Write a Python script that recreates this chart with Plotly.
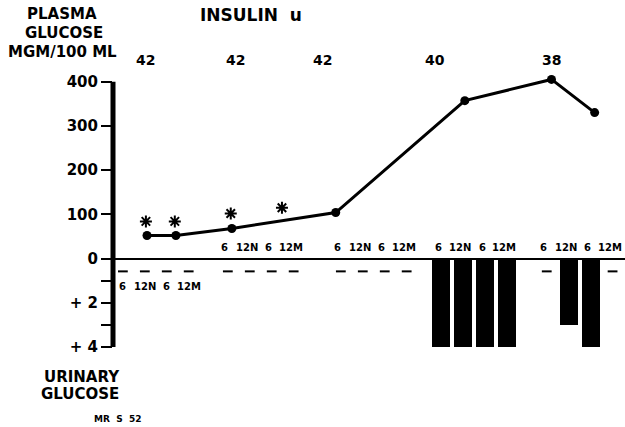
import plotly.graph_objects as go

# ---------------- data ----------------
# schematic time axis (hours-like units)
day_start = [2.7, 31.4, 62.3, 89.8, 118.6]
slot_offset = [0, 6, 12, 18]
slot_labels = ["6", "12N", "6", "12M"]

# urinary glucose (+ units) per collection slot, per day
urine_day = [
    [0, 0, 0, 0],
    [0, 0, 0, 0],
    [0, 0, 0, 0],
    [4, 4, 4, 4],
    [0, 3, 4, 0],
]

# plasma glucose (mg/100 ml)
gluc_t = [9.3, 17.2, 32.5, 60.9, 96.2, 119.9, 131.7]
gluc_v = [52, 52, 68, 104, 357, 405, 330]

# asterisk markers
star_t = [9.0, 16.9, 32.2, 46.2]
star_v = [84, 84, 102, 115]

# insulin units
ins_t = [9.0, 33.6, 57.4, 88.0, 119.8]
ins_v = [42, 42, 42, 40, 38]

y_ticks = [400, 300, 200, 100, 0, -50, -100, -150, -200]
y_ticktext = ["400", "300", "200", "100", "0", "", "+ 2", "", "+ 4"]
URINE_SCALE = 50  # one "+" unit drawn as 50 mg/100 ml below zero

# ---------------- layout constants ----------------
W, H = 625, 427
ML, MR, MT, MB = 113, 0, 75, 80
FONT = "DejaVu Sans"


def px(x):   # page pixel -> paper x
    return (x - ML) / (W - ML - MR)


def py(y):   # page pixel -> paper y
    return 1 - (y - MT) / (H - MT - MB)


fig = go.Figure()

# bars and dashes for urinary glucose
bar_x, bar_y, dash_x = [], [], []
for d, start in enumerate(day_start):
    for s, off in enumerate(slot_offset):
        t = start + off
        u = urine_day[d][s]
        if u > 0:
            bar_x.append(t)
            bar_y.append(-u * URINE_SCALE)
        else:
            dash_x.append(t)

fig.add_trace(go.Bar(x=bar_x, y=bar_y, width=4.9, marker=dict(color="black", line=dict(width=0)),
                     showlegend=False, hoverinfo="skip"))
fig.add_trace(go.Scatter(x=dash_x, y=[-29] * len(dash_x), mode="markers",
                         marker=dict(symbol="line-ew", size=7, color="black",
                                     line=dict(color="black", width=2)),
                         showlegend=False, cliponaxis=False))

# plasma glucose line
fig.add_trace(go.Scatter(x=gluc_t, y=gluc_v, mode="lines+markers",
                         line=dict(color="black", width=3),
                         marker=dict(symbol="circle", size=9, color="black"),
                         showlegend=False, cliponaxis=False))

# asterisks
fig.add_trace(go.Scatter(x=star_t, y=star_v, mode="markers",
                         marker=dict(symbol="asterisk-open", size=10, color="black",
                                     line=dict(color="black", width=2)),
                         showlegend=False, cliponaxis=False))

annotations = []
# slot labels
for d, start in enumerate(day_start):
    for s, off in enumerate(slot_offset):
        if d == 0:
            yv, xs = -63, 0
        else:
            yv, xs = 24, -3
        annotations.append(dict(x=start + off, y=yv, xref="x", yref="y", text=slot_labels[s],
                                showarrow=False, xshift=xs,
                                font=dict(family=FONT, size=10, color="black", weight="bold")))

# insulin values
for t, v in zip(ins_t, ins_v):
    annotations.append(dict(x=t, y=py(50), xref="x", yref="paper", text=str(v), showarrow=False,
                            font=dict(family=FONT, size=14, color="black", weight="bold")))

texts = [
    ("PLASMA", 62, 14, 15),
    ("GLUCOSE", 64, 33, 15),
    ("MGM/100 ML", 62, 52, 15),
    ("INSULIN  u", 251, 15, 17),
    ("URINARY", 82, 377, 15),
    ("GLUCOSE", 80, 394, 15),
    ("MR  S  52", 117, 419, 9),
]
for txt, x, y, sz in texts:
    annotations.append(dict(x=px(x), y=py(y), xref="paper", yref="paper", text=txt, showarrow=False,
                            xanchor="center", yanchor="middle",
                            font=dict(family=FONT, size=sz, color="black", weight="bold")))

fig.update_layout(
    width=W, height=H,
    margin=dict(l=ML, r=MR, t=MT, b=MB),
    paper_bgcolor="white", plot_bgcolor="white",
    annotations=annotations,
    bargap=0,
    shapes=[dict(type="line", xref="paper", yref="y", x0=0, x1=0,
                 y0=y_ticks[-1], y1=y_ticks[0], line=dict(color="black", width=5))],
    xaxis=dict(range=[0, 140], visible=False, showgrid=False, zeroline=False),
    yaxis=dict(range=[-200, 415], showgrid=False,
               zeroline=True, zerolinecolor="black", zerolinewidth=2,
               showline=False,
               tickmode="array", tickvals=y_ticks, ticktext=y_ticktext,
               ticks="outside", ticklen=11, tickwidth=2, tickcolor="black",
               tickfont=dict(family=FONT, size=15, color="black", weight="bold")),
)

fig.write_html("out.html", config={"displayModeBar": False},
               post_script="document.body.style.margin='0px';document.body.style.overflow='hidden';")
